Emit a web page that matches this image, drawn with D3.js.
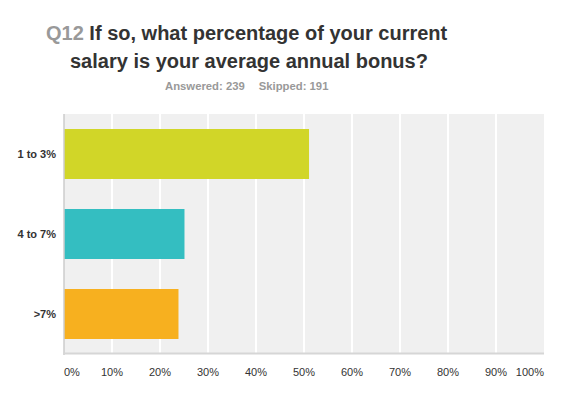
<!DOCTYPE html>
<html><head><meta charset="utf-8">
<script src="https://cdn.jsdelivr.net/npm/d3@7"></script>
<style>body{margin:0;background:#fff;}svg{display:block;font-family:"Liberation Sans",Arial,sans-serif;}</style>
</head><body>
<svg id="c" width="572" height="399"></svg>
<script>
const categories = ["1 to 3%", "4 to 7%", ">7%"];
const values = [51.05, 25.10, 23.85];
const colors = ["#d1d628", "#34bec1", "#f7b01f"];
const xTicks = [0,10,20,30,40,50,60,70,80,90,100];
const titleNum = "Q12";
const titleLine1 = "If so, what percentage of your current";
const titleLine2 = "salary is your average annual bonus?";
const answered = "Answered: 239";
const skipped = "Skipped: 191";

const svg = d3.select("#c");
const m = {left:64, right:28, top:114, bottom:45};
const W = 572, H = 399;
const x = d3.scaleLinear().domain([0,100]).range([m.left, W - m.right]);
const y = d3.scaleBand().domain(categories).range([m.top, H - m.bottom]).paddingInner(0.375).paddingOuter(0.1875);

// background
svg.append("rect").attr("x", x(0)).attr("y", m.top).attr("width", x(100)-x(0)).attr("height", (H-m.bottom)-m.top).attr("fill", "#f0f0f0");

// gridlines
svg.append("g").selectAll("line").data(xTicks.filter(d => d > 0 && d < 100)).join("line")
  .attr("x1", d => x(d)).attr("x2", d => x(d)).attr("y1", m.top).attr("y2", H - m.bottom)
  .attr("stroke", "#ffffff").attr("stroke-width", 2);

// bars
svg.append("g").selectAll("rect").data(categories).join("rect")
  .attr("x", x(0)).attr("y", d => y(d)).attr("height", y.bandwidth())
  .attr("width", (d,i) => x(values[i]) - x(0)).attr("fill", (d,i) => colors[i]);

// axes lines
svg.append("line").attr("x1", x(0)).attr("x2", x(0)).attr("y1", m.top).attr("y2", H - m.bottom + 1)
  .attr("stroke", "#cccccc").attr("stroke-width", 1.5);
svg.append("line").attr("x1", x(0)-0.5).attr("x2", x(100)).attr("y1", H - m.bottom - 0.5).attr("y2", H - m.bottom - 0.5)
  .attr("stroke", "#d6d6d6").attr("stroke-width", 2);

// x tick labels
svg.append("g").selectAll("text").data(xTicks).join("text")
  .attr("x", d => x(d)).attr("y", 376)
  .attr("text-anchor", d => d === 0 ? "start" : (d === 100 ? "end" : "middle"))
  .attr("font-size", 11).attr("fill", "#333").text(d => d + "%");

// category labels
svg.append("g").selectAll("text").data(categories).join("text")
  .attr("x", 56).attr("y", d => y(d) + y.bandwidth()/2 + 4)
  .attr("text-anchor", "end").attr("font-size", 11).attr("font-weight", "bold").attr("fill", "#333").text(d => d);

// title
const t1 = svg.append("text").attr("x", 46).attr("y", 40).attr("font-size", 20).attr("font-weight", "bold");
t1.append("tspan").attr("fill", "#999").text(titleNum + " ");
t1.append("tspan").attr("fill", "#333").text(titleLine1);
svg.append("text").attr("x", 70).attr("y", 68).attr("font-size", 20).attr("font-weight", "bold").attr("fill", "#333").text(titleLine2);

const sub = svg.append("text").attr("x", 165).attr("y", 90).attr("font-size", 11.3).attr("font-weight", "bold").attr("fill", "#999");
sub.append("tspan").text(answered);
sub.append("tspan").attr("dx", 14).text(skipped);
</script>
</body></html>
